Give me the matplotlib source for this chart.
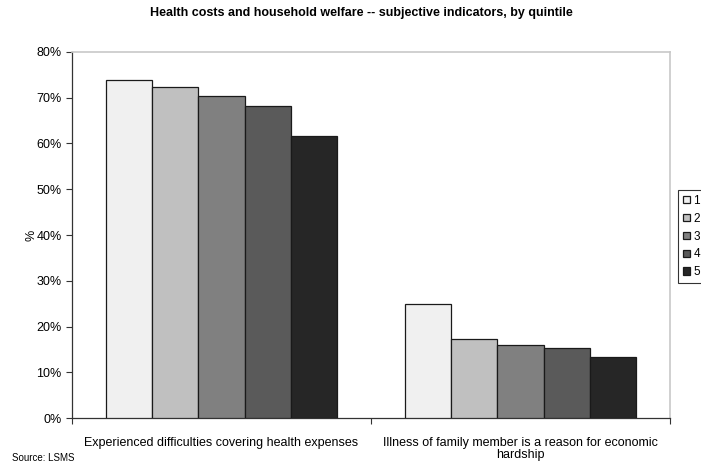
import matplotlib.pyplot as plt
import numpy as np
from matplotlib.ticker import FuncFormatter

plt.rcParams['font.family'] = ['Liberation Sans', 'DejaVu Sans']

# data
categories = ['Experienced difficulties covering health expenses',
              'Illness of family member is a reason for economic\nhardship']
quintiles = ['1', '2', '3', '4', '5']
values = [
    [73.8, 24.9],   # quintile 1
    [72.3, 17.3],   # quintile 2
    [70.3, 15.9],   # quintile 3
    [68.2, 15.2],   # quintile 4
    [61.7, 13.3],   # quintile 5
]
colors = ['#f0f0f0', '#c0c0c0', '#808080', '#5a5a5a', '#262626']

fig = plt.figure(figsize=(7.01, 4.65), dpi=100)
ax = fig.add_axes([72 / 701, 1 - 418 / 465, (670 - 72) / 701, (418 - 52) / 465])

x = np.arange(len(categories))
w = 0.1545
for i, q in enumerate(quintiles):
    ax.bar(x + (i - 2) * w, values[i], width=w, color=colors[i],
           edgecolor='#1a1a1a', linewidth=0.9, label=q, zorder=3)

ax.set_xlim(-0.5, 1.5)
ax.set_ylim(0, 80)
ax.set_yticks(np.arange(0, 81, 10))
ax.yaxis.set_major_formatter(FuncFormatter(lambda v, p: f'{v:.0f}%'))
ax.tick_params(axis='y', labelsize=9, direction='out', length=4, width=0.8, color='#333333')

# excel style: ticks between categories, labels centred
ax.set_xticks([-0.5, 0.5, 1.5])
ax.set_xticklabels([])
ax.set_xticks(x, minor=True)
ax.set_xticklabels(categories, minor=True, fontsize=9, linespacing=1.0)
ax.tick_params(axis='x', which='major', direction='out', length=4, width=0.8, color='#333333')
ax.tick_params(axis='x', which='minor', length=0, pad=14)

for side in ['top', 'right']:
    ax.spines[side].set_color('#c8c8c8')
    ax.spines[side].set_linewidth(1.2)
for side in ['left', 'bottom']:
    ax.spines[side].set_color('#333333')
    ax.spines[side].set_linewidth(0.9)

ax.set_ylabel('%', fontsize=9, labelpad=-1)

fig.text(361 / 701, 1 - 13 / 465, 'Health costs and household welfare -- subjective indicators, by quintile',
         ha='center', va='center', fontsize=9, fontweight='bold')
fig.text(12 / 701, 1 - 458 / 465, 'Source: LSMS', ha='left', va='center', fontsize=7)

leg = fig.legend(loc='upper left', bbox_to_anchor=(678 / 701, 1 - 190 / 465),
                 fontsize=8.5, frameon=True, fancybox=False, handlelength=0.6,
                 handleheight=0.6, handletextpad=0.3, labelspacing=0.5,
                 borderpad=0.4, borderaxespad=0)
leg.get_frame().set_edgecolor('#000000')
leg.get_frame().set_linewidth(0.8)

plt.savefig('out.png', dpi=100)
